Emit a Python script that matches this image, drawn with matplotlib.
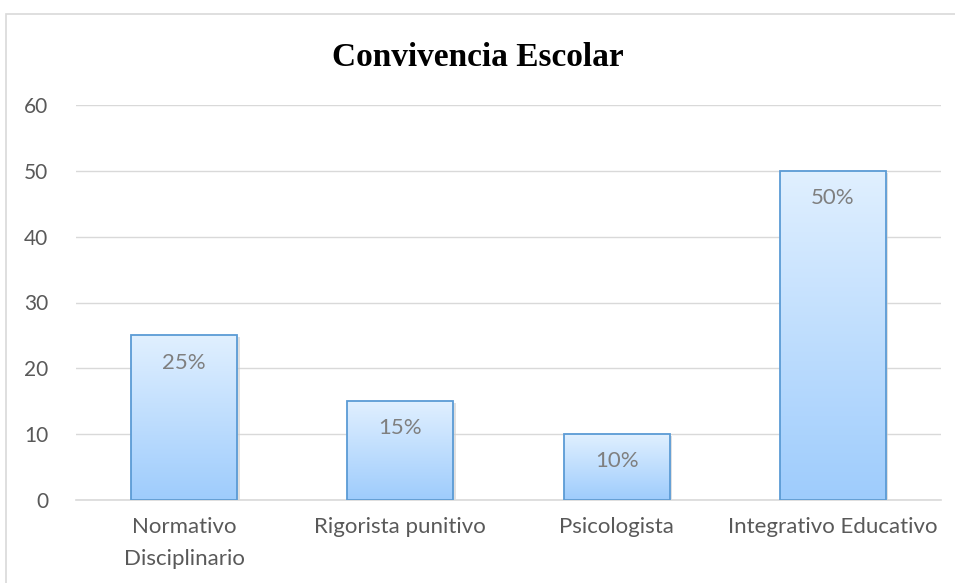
import matplotlib.pyplot as plt
import numpy as np
from matplotlib.patches import Rectangle

categories = ["Normativo\nDisciplinario", "Rigorista punitivo", "Psicologista", "Integrativo Educativo"]
values = [25, 15, 10, 50]
labels = ["25%", "15%", "10%", "50%"]

plt.rcParams['font.family'] = ['Lato', 'DejaVu Sans']

fig = plt.figure(figsize=(9.55, 5.83), dpi=100)
ax = fig.add_axes([76/955, 1 - 500/583, (941-76)/955, (500-105)/583])

# outer chart border
fig.patches.append(Rectangle((6/955, -0.1), 1.1, 1 - 14/583 + 0.1, transform=fig.transFigure,
                             fill=False, edgecolor="#d9d9d9", linewidth=1.2))

x = np.arange(len(categories))
bars = ax.bar(x, values, width=0.49, facecolor="none", edgecolor="#5b9bd5", linewidth=1.3, zorder=3)

grad = np.linspace(0, 1, 256).reshape(-1, 1)
top = np.array([0.88, 0.94, 1.0])
bot = np.array([0.62, 0.80, 0.99])
img = (top[None, None, :] * (1 - grad[:, :, None]) + bot[None, None, :] * grad[:, :, None])
for b in bars:
    x0, w, h = b.get_x(), b.get_width(), b.get_height()
    # soft shadow
    ax.add_patch(Rectangle((x0 + 0.012, -0.3), w, h, facecolor="#cccccc", edgecolor="none",
                           alpha=0.6, zorder=1.5))
    im = ax.imshow(img, extent=(x0, x0 + w, 0, h), aspect="auto", zorder=2, origin="upper")
    im.set_clip_path(b)

for xi, v, lab in zip(x, values, labels):
    ax.text(xi, v - 2.6, lab, ha="center", va="top", fontsize=16, color="#7f7f7f", zorder=4)

ax.set_xlim(-0.5, 3.5)
ax.set_ylim(0, 60)
ax.set_yticks(range(0, 61, 10))
ax.yaxis.grid(True, color="#d9d9d9", linewidth=1)
ax.set_axisbelow(True)
ax.set_xticks(x)
ax.set_xticklabels(categories, fontsize=16, color="#595959", linespacing=1.75)
ax.tick_params(axis="y", labelsize=15, labelcolor="#595959", length=0, pad=20)
ax.tick_params(axis="x", length=0, pad=12)
for s in ["top", "right", "left"]:
    ax.spines[s].set_visible(False)
ax.spines["bottom"].set_color("#d9d9d9")
ax.spines["bottom"].set_linewidth(1.2)

fig.text(0.5, 1 - 58/583, "Convivencia Escolar", ha="center", va="center",
         fontsize=24, fontweight="bold", family="Liberation Serif", color="black")

fig.savefig("out.png", dpi=100)
